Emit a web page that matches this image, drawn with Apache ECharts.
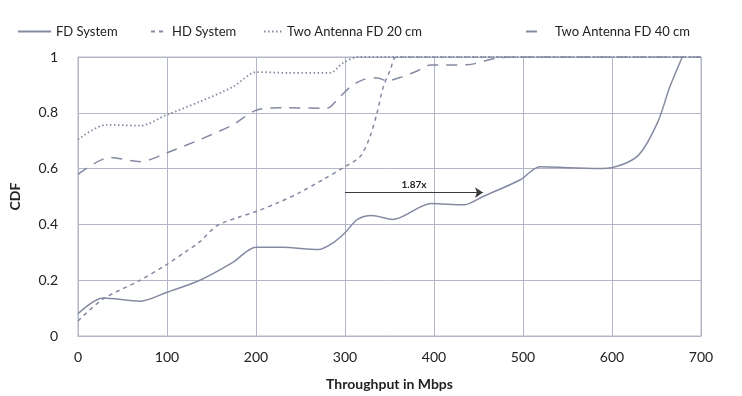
<!DOCTYPE html>
<html>
<head>
<meta charset="utf-8">
<script src="https://cdn.jsdelivr.net/npm/echarts@6/dist/echarts.min.js"></script>
<style>
  html, body { margin: 0; padding: 0; background: #fff; }
  #chart { width: 742px; height: 396px; }
</style>
</head>
<body>
<div id="chart"></div>
<script>
// data: [throughput Mbps, CDF]
const seriesNames = ['FD System', 'HD System', 'Two Antenna FD 20 cm', 'Two Antenna FD 40 cm']
const fdSystem = [
  [0, 0.08], [28, 0.136], [70, 0.125], [100, 0.157], [137, 0.2], [174, 0.264],
  [200, 0.318], [230, 0.318], [270, 0.31], [287, 0.335], [300, 0.37], [314, 0.418],
  [330, 0.432], [354, 0.418], [397, 0.475], [433, 0.47], [455, 0.5], [497, 0.56],
  [519, 0.607], [553, 0.603], [590, 0.6], [628, 0.643], [651, 0.764], [665, 0.893], [679, 1.0]
]
const hdSystem = [
  [0, 0.054], [28, 0.132], [70, 0.2], [100, 0.257], [120, 0.3], [137, 0.338],
  [156, 0.395], [180, 0.425], [200, 0.446], [225, 0.478], [249, 0.514], [275, 0.56],
  [300, 0.607], [317, 0.643], [328, 0.714], [336, 0.8], [343, 0.893], [351, 0.954],
  [358, 1.0], [700, 1.0]
]
const twoAnt20 = [
  [0, 0.704], [32, 0.757], [70, 0.754], [100, 0.793], [137, 0.84], [174, 0.893],
  [201, 0.946], [238, 0.943], [283, 0.943], [298, 0.979], [315, 1.0], [700, 1.0]
]
const twoAnt40 = [
  [0, 0.579], [36, 0.64], [70, 0.625], [100, 0.657], [137, 0.704], [174, 0.757],
  [201, 0.81], [230, 0.818], [280, 0.816], [291, 0.846], [306, 0.893], [320, 0.918],
  [336, 0.925], [347, 0.915], [365, 0.93], [381, 0.95], [396, 0.971], [437, 0.972],
  [470, 0.996], [500, 1.0], [700, 1.0]
]
const gainArrow = { from: [300, 0.514], to: [455, 0.514], label: '1.87x' }

const lineColor = '#858aa3'
const gridColor = '#b3b6c6'
const textColor = '#222'
const font = 'Lato, "Open Sans", sans-serif'

const chart = echarts.init(document.getElementById('chart'), null, { renderer: 'canvas' })

const dashStyles = ['solid', [4, 4], [1.5, 2.5], [11, 8]]
const allData = [fdSystem, hdSystem, twoAnt20, twoAnt40]
const legendLeft = [12, 145, 258, 520]
const legendIconW = [33, 16, 18, 18]
const legendTextPad = [0, 0, 0, 6]

const option = {
  animation: false,
  backgroundColor: '#fff',
  legend: seriesNames.map((name, i) => ({
    show: true,
    data: [name],
    left: legendLeft[i],
    top: 20,
    itemWidth: legendIconW[i],
    itemHeight: 10,
    itemGap: 0,
    itemStyle: { opacity: 0 },
    textStyle: {
      color: textColor, fontSize: 13, fontFamily: font,
      padding: [0, 0, 0, legendTextPad[i]]
    }
  })),
  grid: {
    left: 78, right: 41, top: 57, bottom: 59,
    show: true, borderColor: gridColor, borderWidth: 1
  },
  xAxis: {
    type: 'value',
    min: 0, max: 700, interval: 100,
    name: 'Throughput in Mbps',
    nameLocation: 'middle',
    nameGap: 41,
    nameTextStyle: { color: textColor, fontSize: 14, fontWeight: 'bold', fontFamily: font },
    axisLine: { lineStyle: { color: gridColor } },
    axisTick: { show: false },
    axisLabel: { color: textColor, fontSize: 14, margin: 14, fontFamily: font },
    splitLine: { lineStyle: { color: gridColor, width: 1 } }
  },
  yAxis: {
    type: 'value',
    min: 0, max: 1, interval: 0.2,
    name: 'CDF',
    nameLocation: 'middle',
    nameGap: 56,
    nameTextStyle: { color: textColor, fontSize: 14, fontWeight: 'bold', fontFamily: font },
    axisLine: { show: true, lineStyle: { color: gridColor } },
    axisTick: { show: false },
    axisLabel: {
      color: textColor, fontSize: 14, margin: 20, fontFamily: font,
      formatter: v => (v === 0 || v === 1) ? String(v) : v.toFixed(1)
    },
    splitLine: { lineStyle: { color: gridColor, width: 1 } }
  },
  series: seriesNames.map((name, i) => {
    const s = {
      name,
      type: 'line',
      data: allData[i],
      smooth: 0.3,
      showSymbol: false,
      symbol: 'none',
      lineStyle: { color: lineColor, width: i === 2 ? 1.8 : 1.5, type: dashStyles[i] },
      itemStyle: { color: lineColor }
    }
    if (i === 1) {
      s.markLine = {
        silent: true,
        symbol: ['none', 'arrow'],
        symbolSize: 8,
        lineStyle: { color: '#3a3a3a', type: 'solid', width: 1 },
        label: {
          show: true,
          position: 'middle',
          formatter: gainArrow.label,
          color: textColor,
          fontSize: 10,
          fontWeight: 'bold',
          fontFamily: font,
          distance: 3
        },
        data: [[{ coord: gainArrow.from }, { coord: gainArrow.to }]]
      }
    }
    return s
  })
}

chart.setOption(option)
</script>
</body>
</html>
